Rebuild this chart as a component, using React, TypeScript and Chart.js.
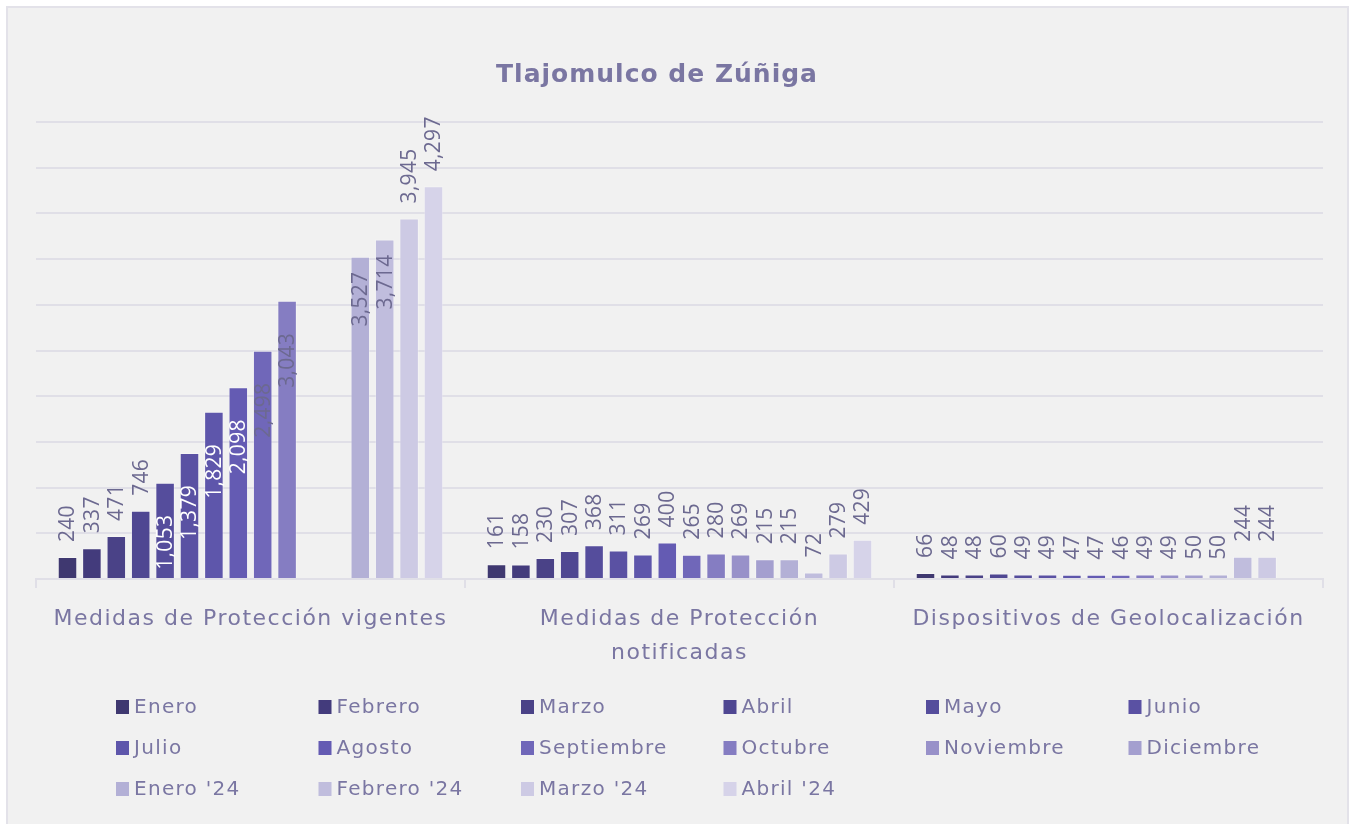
import React, { useEffect, useRef } from "react";
import { Chart, registerables } from "chart.js";

Chart.register(...registerables);

const chartTitle = "Tlajomulco de Zúñiga";
const categories: string[][] = [
  ["Medidas de Protección vigentes"],
  ["Medidas de Protección", "notificadas"],
  ["Dispositivos de Geolocalización"],
];
const seriesNames = [
  "Enero", "Febrero", "Marzo", "Abril", "Mayo", "Junio",
  "Julio", "Agosto", "Septiembre", "Octubre", "Noviembre", "Diciembre",
  "Enero '24", "Febrero '24", "Marzo '24", "Abril '24",
];
const vigentes = [240, 337, 471, 746, 1053, 1379, 1829, 2098, 2498, 3043, null, null, 3527, 3714, 3945, 4297];
const notificadas = [161, 158, 230, 307, 368, 311, 269, 400, 265, 280, 269, 215, 215, 72, 279, 429];
const geolocalizacion = [66, 48, 48, 60, 49, 49, 47, 47, 46, 49, 49, 50, 50, 244, 244, null];
const seriesColors = [
  "#3f3870", "#433b7c", "#4a4287", "#4f4792", "#554d9c", "#5a51a3",
  "#5e56ab", "#645bb3", "#7067b9", "#857dc2", "#9891c9", "#a49fcf",
  "#b3b0d6", "#c0bddd", "#cdcae4", "#d6d3e9",
];
const yMax = 5000;
const yStep = 500;

const FONT = "'DejaVu Sans', sans-serif";
const NUM_FONT = "'Open Sans', sans-serif";
const TEXT = "#7a76a2";
const LABEL_DARK = "#6c6990";
const GRID = "#e0dfe7";

const spacing = {
  id: "spacing",
  beforeDraw(chart: any) {
    chart.ctx.letterSpacing = "1.5px";
  },
};

const valueLabels = {
  id: "valueLabels",
  afterDatasetsDraw(chart: any) {
    const ctx = chart.ctx;
    ctx.save();
    ctx.letterSpacing = "0.3px";
    ctx.font = `21px ${NUM_FONT}`;
    ctx.textBaseline = "middle";
    chart.data.datasets.forEach((ds: any, di: number) => {
      const meta = chart.getDatasetMeta(di);
      meta.data.forEach((bar: any, i: number) => {
        const v = ds.data[i];
        if (v === null || v === undefined) return;
        const txt = v.toLocaleString("en-US");
        const inside = v >= 1000 && v < 3800;
        ctx.save();
        ctx.translate(bar.x + 1, bar.y);
        ctx.rotate(-Math.PI / 2);
        if (inside) {
          ctx.textAlign = "right";
          ctx.fillStyle = di <= 7 ? "#ffffff" : LABEL_DARK;
          const gap = di >= 12 ? 15 : 32;
          ctx.fillText(txt, -gap, 0);
        } else {
          ctx.textAlign = "left";
          ctx.fillStyle = LABEL_DARK;
          ctx.fillText(txt, 15, 0);
        }
        ctx.restore();
      });
    });
    ctx.restore();
  },
};

const titleAndLegend = {
  id: "titleAndLegend",
  afterDraw(chart: any) {
    const ctx = chart.ctx;
    ctx.save();
    ctx.letterSpacing = "1px";
    ctx.fillStyle = TEXT;
    ctx.font = `bold 25px ${FONT}`;
    ctx.textAlign = "center";
    ctx.textBaseline = "middle";
    ctx.fillText(chartTitle, 649, 67);

    ctx.letterSpacing = "1.3px";
    ctx.font = `20px ${FONT}`;
    ctx.textAlign = "left";
    const cols = 6;
    const colW = 202.5;
    const x0 = 108;
    const y0 = 699;
    const rowH = 41;
    seriesNames.forEach((name, i) => {
      const c = i % cols;
      const r = Math.floor(i / cols);
      const x = x0 + c * colW;
      const y = y0 + r * rowH;
      ctx.fillStyle = seriesColors[i];
      ctx.fillRect(x, y - 7, 13, 14);
      ctx.fillStyle = TEXT;
      ctx.fillText(name, x + 18, y + 1);
    });
    ctx.restore();
  },
};

export default function App() {
  const ref = useRef<HTMLCanvasElement | null>(null);
  useEffect(() => {
    if (!ref.current) return;
    const chart = new Chart(ref.current, {
      type: "bar",
      data: {
        labels: categories as any,
        datasets: seriesNames.map((name, i) => ({
          label: name,
          data: [vigentes[i], notificadas[i], geolocalizacion[i]],
          backgroundColor: seriesColors[i],
          borderColor: "rgba(255,255,255,0.3)",
          borderWidth: 1,
          categoryPercentage: 0.91,
          barPercentage: 0.8,
        })),
      },
      options: {
        animation: false,
        responsive: false,
        devicePixelRatio: 1,
        layout: { padding: { left: 28, right: 24, top: 114, bottom: 155 } },
        plugins: { legend: { display: false }, title: { display: false }, tooltip: { enabled: false } },
        scales: {
          x: {
            grid: { drawOnChartArea: false, drawTicks: true, tickLength: 9, color: GRID, lineWidth: 2 },
            border: { display: true, color: GRID, width: 2 },
            ticks: { color: TEXT, font: { family: FONT, size: 22, lineHeight: 1.55 }, padding: 14, maxRotation: 0, autoSkip: false },
            afterFit: (s: any) => { s.height = 90; },
          },
          y: {
            min: 0,
            max: yMax,
            ticks: { display: false, stepSize: yStep },
            grid: { color: GRID, lineWidth: 2, drawTicks: false },
            border: { display: false },
            afterFit: (s: any) => { s.width = 0; },
          },
        },
      },
      plugins: [spacing, valueLabels, titleAndLegend],
    });
    return () => chart.destroy();
  }, []);
  return (
    <div style={{ position: "fixed", left: 6, top: 6, border: "2px solid #e3e2e9", background: "#f1f1f1", width: 1339, height: 816, overflow: "hidden" }}>
      <canvas ref={ref} width={1339} height={816} style={{ display: "block" }} />
    </div>
  );
}
